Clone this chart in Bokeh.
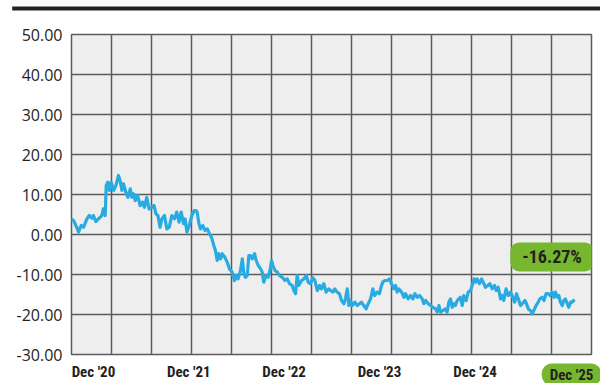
import pandas as pd
from bokeh.plotting import figure
from bokeh.models import FixedTicker, NumeralTickFormatter, Range1d, Label
from bokeh.embed import file_html
from bokeh.resources import INLINE

# Cumulative return (%) of the fund; days counted from the first observation
start_date = "2020-09-08"
day_offset = [
    0, 8, 20, 27, 37, 46, 59, 68, 78, 84, 93, 103, 110, 116, 122, 129, 133, 139, 145, 152,
    161, 170, 180, 186, 193, 199, 208, 216, 225, 231, 237, 244, 253, 263, 272, 279, 288, 297,
    308, 316, 323, 331, 339, 346, 356, 365, 374, 384, 394, 403, 412, 420, 429, 435, 442, 451,
    461, 470, 477, 481, 488, 494, 503, 511, 520, 528, 536, 545, 551, 558, 564, 571, 577, 587,
    596, 605, 615, 624, 631, 638, 647, 654, 660, 666, 673, 679, 685, 692, 701, 707, 715, 724,
    730, 736, 745, 753, 761, 766, 771, 779, 788, 796, 807, 817, 826, 835, 845, 851, 858, 864,
    870, 881, 890, 899, 906, 915, 924, 932, 941, 950, 957, 966, 975, 985, 992, 1001, 1008,
    1017, 1026, 1034, 1043, 1049, 1056, 1062, 1068, 1075, 1085, 1094, 1103, 1110, 1119, 1128,
    1136, 1145, 1154, 1161, 1170, 1179, 1187, 1192, 1200, 1209, 1218, 1225, 1234, 1241, 1247,
    1253, 1264, 1273, 1279, 1289, 1298, 1307, 1315, 1324, 1333, 1343, 1349, 1356, 1366, 1375,
    1384, 1394, 1400, 1407, 1413, 1422, 1430, 1438, 1445, 1451, 1458, 1464, 1470, 1477, 1483,
    1489, 1496, 1502, 1511, 1519, 1528, 1534, 1541, 1547, 1553, 1562, 1570, 1579, 1585, 1594,
    1602, 1611, 1620, 1626, 1634, 1643, 1649, 1655, 1664, 1672, 1681, 1690, 1697, 1704, 1713,
    1719, 1726, 1736, 1742, 1749, 1757, 1764, 1770, 1779, 1787, 1793, 1802, 1809, 1817, 1825,
    1832, 1840, 1847, 1853, 1860, 1866, 1872, 1879, 1885, 1891, 1898, 1904, 1911, 1917, 1926,
]
pct_return = [
    3.9, 3.5, 1.8, 0.6, 2.25, 1.8, 3.9, 4.75, 4.1, 4.75, 3.25, 3.9, 4.3, 4.75, 6.4, 4.75,
    12.25, 13.1, 11.0, 13.1, 11.0, 12.25, 14.75, 13.5, 11.0, 12.7, 10.6, 9.3, 11.4, 9.3, 10.2,
    8.5, 9.75, 7.25, 8.1, 6.8, 9.3, 6.4, 6.8, 7.25, 5.2, 4.75, 1.8, 3.9, 4.75, 1.4, 1.8, 4.75,
    3.9, 5.6, 3.1, 5.6, 2.7, 3.9, 0.6, 2.25, 4.75, 6.0, 6.0, 5.6, 2.7, 1.4, 2.25, 1.0, 1.4,
    0.2, -0.7, -2.75, -4.0, -6.5, -4.8, -6.1, -4.8, -5.7, -6.9, -8.6, -9.4, -11.5, -10.25,
    -11.1, -9.0, -6.1, -9.8, -10.7, -10.25, -5.25, -5.25, -6.1, -4.8, -6.5, -7.75, -8.6, -9.4,
    -11.9, -10.25, -10.7, -8.6, -6.5, -7.75, -9.0, -9.4, -10.25, -10.7, -11.5, -11.1, -12.3,
    -12.75, -14.0, -14.8, -10.25, -12.75, -11.5, -11.1, -10.25, -11.9, -12.3, -10.8, -11.5,
    -14.0, -12.75, -13.6, -12.3, -14.4, -13.6, -14.0, -14.4, -13.6, -14.4, -14.8, -16.5,
    -17.3, -16.1, -13.6, -17.75, -16.5, -17.75, -16.9, -17.75, -17.3, -16.9, -17.75, -18.6,
    -17.3, -16.1, -13.6, -15.25, -14.4, -14.8, -12.75, -11.9, -11.5, -11.5, -11.1, -12.3,
    -13.6, -12.75, -14.4, -13.6, -14.4, -15.7, -14.8, -16.1, -15.25, -16.1, -14.8, -15.7,
    -15.25, -16.1, -17.3, -16.5, -17.3, -17.75, -18.2, -18.6, -19.4, -17.75, -19.4, -19.0,
    -18.6, -19.4, -16.9, -16.1, -18.2, -17.3, -17.75, -16.5, -16.1, -15.7, -17.75, -15.25,
    -16.5, -14.4, -14.0, -12.75, -11.1, -11.9, -11.1, -12.3, -11.1, -12.3, -13.2, -12.75,
    -12.3, -13.6, -12.75, -14.0, -13.2, -16.1, -15.25, -16.5, -13.6, -15.25, -14.4, -15.7,
    -16.9, -14.8, -16.5, -17.75, -17.3, -16.5, -17.3, -18.6, -19.0, -19.8, -19.0, -17.75,
    -16.9, -16.1, -15.7, -16.5, -14.8, -14.8, -15.25, -14.4, -15.7, -14.4, -15.7, -15.25,
    -16.9, -17.75, -16.5, -16.1, -17.3, -18.2, -16.9, -16.9, -16.27,
]

x_tick_dates = ["2020-12-01", "2021-12-01", "2022-12-01", "2023-12-01", "2024-12-01"]
x_tick_labels = ["Dec '20", "Dec '21", "Dec '22", "Dec '23", "Dec '24"]
last_tick_label = "Dec '25"
y_ticks = [-30, -20, -10, 0, 10, 20, 30, 40, 50]

LINE_BLUE = "#29abe2"
PILL_GREEN = "#76b72f"
GRID = "#5b5b5b"
INK = "#231f20"
NARROW = "Roboto Condensed, DejaVu Sans Condensed, sans-serif"

DAY_MS = 86400000.0
t0 = pd.Timestamp(start_date)
dates = [t0 + pd.Timedelta(days=d) for d in day_offset]
total_return = pct_return[-1]


def ms(ts):
    return pd.Timestamp(ts).value / 1e6


x_start = ms(t0)
x_end = x_start + 1991 * DAY_MS

p = figure(width=600, height=383, x_axis_type="datetime",
           x_range=Range1d(x_start, x_end), y_range=Range1d(-30, 50),
           output_backend="svg", toolbar_location=None,
           min_border_left=71, min_border_right=9,
           min_border_top=34, min_border_bottom=29)

p.background_fill_color = "#eeeeee"
p.border_fill_color = "white"
p.outline_line_color = GRID
p.outline_line_width = 1.5

# 13 evenly spaced vertical grid columns
n_cols = 13
p.xgrid.ticker = FixedTicker(ticks=[x_start + k * (x_end - x_start) / n_cols
                                    for k in range(1, n_cols)])
p.xgrid.grid_line_color = GRID
p.xgrid.grid_line_width = 1.5
p.ygrid.ticker = FixedTicker(ticks=y_ticks)
p.ygrid.grid_line_color = GRID
p.ygrid.grid_line_width = 1.5

# Axes: labels only
tick_ms = [ms(d) for d in x_tick_dates]
p.xaxis.ticker = FixedTicker(ticks=tick_ms)
p.xaxis.major_label_overrides = {t: lab for t, lab in zip(tick_ms, x_tick_labels)}
p.yaxis.ticker = FixedTicker(ticks=y_ticks)
p.yaxis.formatter = NumeralTickFormatter(format="0.00")
for ax in (p.xaxis, p.yaxis):
    ax.axis_line_color = None
    ax.major_tick_line_color = None
    ax.minor_tick_line_color = None
    ax.major_tick_out = 0
    ax.major_tick_in = 0
    ax.minor_tick_out = 0
    ax.major_label_text_color = INK
p.xaxis.major_label_text_font = NARROW
p.xaxis.major_label_text_font_style = "bold"
p.xaxis.major_label_text_font_size = "15px"
p.xaxis.major_label_standoff = 8
p.yaxis.major_label_text_font = "Open Sans"
p.yaxis.major_label_text_font_size = "16px"
p.yaxis.major_label_standoff = 9

p.line(dates, pct_return, line_color=LINE_BLUE, line_width=3.2, line_join="round")

# Heavy rule across the top of the chart
p.add_layout(Label(x=306, y=8, x_units="canvas", y_units="canvas", text=" ",
                   text_align="center", text_baseline="middle",
                   text_font_size="2px", background_fill_color="#222222",
                   background_fill_alpha=1, padding=(294, 1)), "above")

# Highlighted final period label (kept in the top margin, drawn at the foot)
p.add_layout(Label(x=571, y=374, x_units="canvas", y_units="canvas",
                   text=last_tick_label,
                   text_align="center", text_baseline="middle",
                   text_font=NARROW, text_font_style="bold",
                   text_font_size="15px", text_color=INK,
                   background_fill_color=PILL_GREEN, background_fill_alpha=1,
                   padding=(8, 2), border_radius=10), "above")

# Total return badge
p.add_layout(Label(x=x_start + 1840 * DAY_MS, y=-5.6, text=f"{total_return:.2f}%",
                   text_align="center", text_baseline="middle",
                   text_font=NARROW, text_font_style="bold",
                   text_font_size="18px", text_color=INK,
                   background_fill_color=PILL_GREEN, background_fill_alpha=1,
                   padding=(12, 4), border_radius=9))

open("out.html", "w").write(file_html(p, INLINE))
